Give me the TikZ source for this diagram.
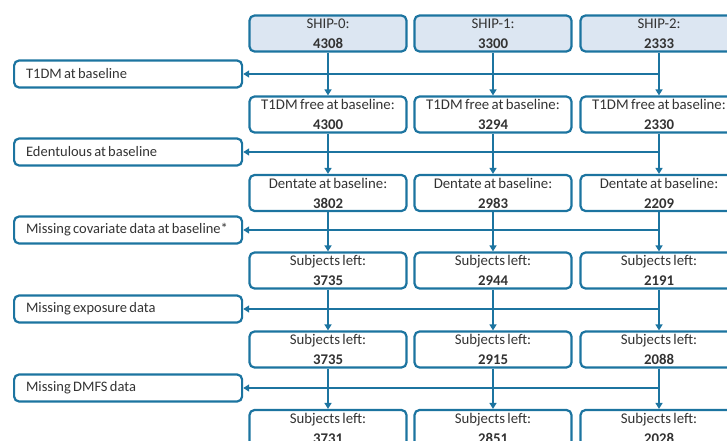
\documentclass[tikz,border=0pt]{standalone}
\usepackage{fontspec}
\setmainfont{Carlito}[WordSpace=0.7]
\usetikzlibrary{arrows.meta}
\definecolor{shipblue}{HTML}{1C74A0}
\definecolor{shipfill}{HTML}{DCE6F2}
\tikzset{
  stagebox/.style={draw=shipblue, line width=2.2pt, rounded corners=5pt,
    minimum width=157pt, minimum height=36pt, inner sep=0pt, align=center,
    font=\fontsize{14.8}{20}\selectfont, text=black!80},
  shipbox/.style={stagebox, fill=shipfill},
  exclbox/.style={draw=shipblue, line width=2.2pt, rounded corners=5pt,
    minimum height=27pt, text width=204pt, inner xsep=12pt, inner ysep=0pt,
    align=flush left, anchor=west, font=\fontsize{14.5}{16}\selectfont, text=black!80},
  link/.style={draw=shipblue, line width=1.6pt, -{Triangle[length=6pt,width=7pt]}},
}
\begin{document}
\begin{tikzpicture}[x=1pt,y=-1pt]
  \useasboundingbox (0,0) rectangle (727,441);
  \clip (0,0) rectangle (727,441);
  % cohorts, one column each
  \foreach \c/\x/\na/\nb/\nc/\nd/\ne/\nf in {0/328/4308/4300/3802/3735/3735/3731,
      1/493/3300/3294/2983/2944/2915/2851, 2/659/2333/2330/2209/2191/2088/2028}{
    \node[shipbox]  (c\c r1) at (\x,33.5)  {SHIP-\c:\\\textbf{\na}};
    \node[stagebox] (c\c r2) at (\x,114.5) {T1DM free at baseline:\\\textbf{\nb}};
    \node[stagebox] (c\c r3) at (\x,193)   {Dentate at baseline:\\\textbf{\nc}};
    \node[stagebox] (c\c r4) at (\x,270.5) {Subjects left:\\\textbf{\nd}};
    \node[stagebox] (c\c r5) at (\x,349.5) {Subjects left:\\\textbf{\ne}};
    \node[stagebox] (c\c r6) at (\x,428)   {Subjects left:\\\textbf{\nf}};
  }
  % exclusions
  \node[exclbox] (ex1) at (13,74)  {T1DM at baseline};
  \node[exclbox] (ex2) at (13,152) {Edentulous at baseline};
  \node[exclbox] (ex3) at (13,230) {Missing covariate data at baseline*};
  \node[exclbox] (ex4) at (13,309) {Missing exposure data};
  \node[exclbox] (ex5) at (13,388) {Missing DMFS data};

  \foreach \c in {0,1,2}
    \foreach \r [count=\n from 2] in {1,...,5}
      \draw[link] (c\c r\r.south) -- (c\c r\n.north);
  \foreach \r in {1,...,5}
    \draw[link] (c2r\r.south |- ex\r.east) -- (ex\r.east);
\end{tikzpicture}
\end{document}
